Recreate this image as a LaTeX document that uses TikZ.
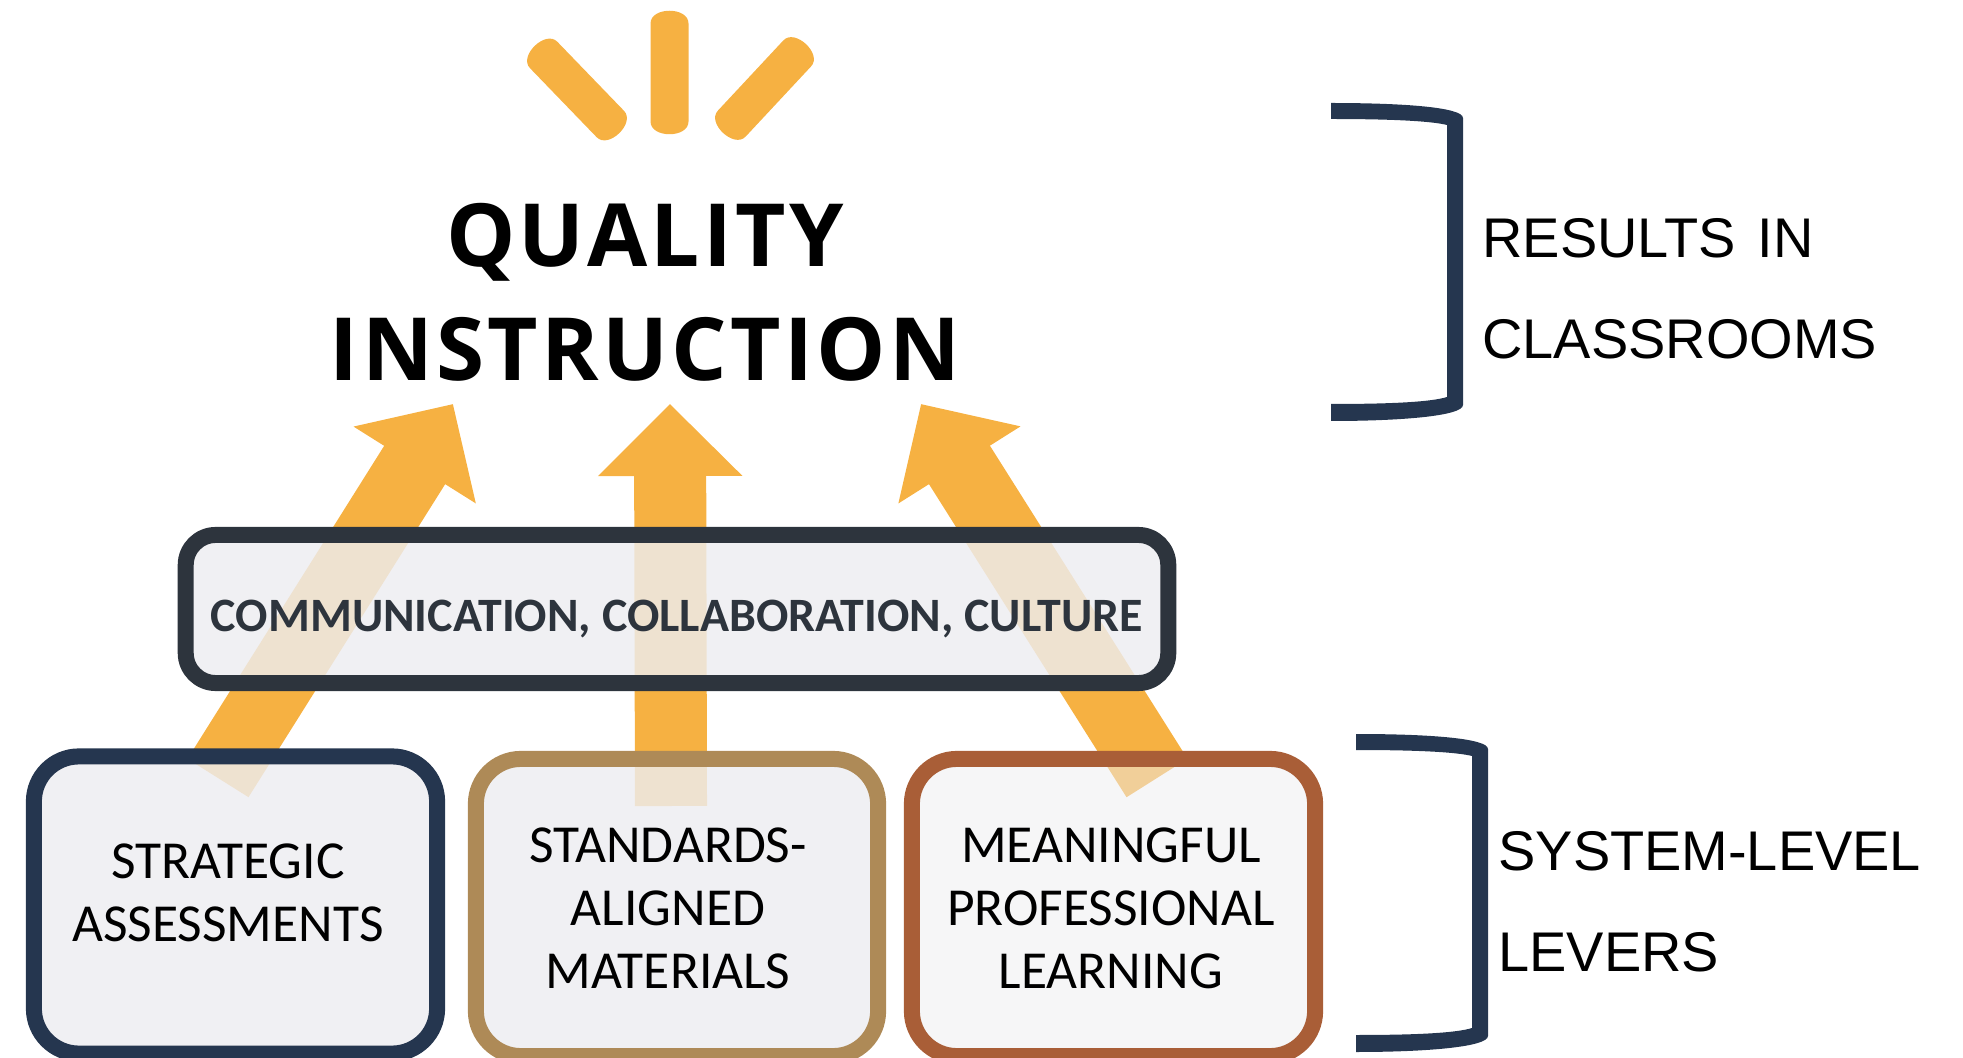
\documentclass[tikz,border=0pt]{standalone}
\usepackage{fontspec}
\setmainfont{Carlito}
\newfontfamily\titlefont[LetterSpace=3.8]{Open Sans}
\newfontfamily\sidefont{Liberation Sans}
\usetikzlibrary{arrows.meta}
\definecolor{amber}{HTML}{F6B142}
\definecolor{navy}{HTML}{25364F}
\definecolor{slate}{HTML}{2D343D}
\definecolor{tan}{HTML}{AE8A57}
\definecolor{rust}{HTML}{A95E37}
\definecolor{boxfill}{RGB}{237,237,240}
\tikzset{
  bigarrow/.style={draw=amber, line width=0.72cm, -{Triangle[length=0.72cm,width=1.40cm]}},
  ray/.style={fill=amber},
  leverbox/.style={draw, line width=0.16cm, rounded corners=0.45cm, fill=boxfill, fill opacity=0.82, draw opacity=1,
    minimum width=4.03cm, minimum height=2.97cm},
  levertext/.style={align=center, font=\fontsize{15.2}{17.9}\selectfont},
  sidetext/.style={align=left, anchor=west, font=\sidefont\fontsize{15.9}{28.7}\selectfont},
}
\newcommand{\bracketshape}[2]{%
  \fill[navy, shift={(#1,#2)}] (0,0) .. controls (70,0) and (132,4) .. (132,15) -- (132,302)
    .. controls (132,313) and (70,318) .. (0,318) -- (0,301) .. controls (60,301) and (100,299) .. (116,294)
    -- (116,22) .. controls (100,18) and (60,16) .. (0,16) -- cycle;}
\begin{document}
\begin{tikzpicture}[x=0.01cm,y=-0.01cm]
\useasboundingbox (0,0) rectangle (1963,1058);
\clip (0,0) rectangle (1963,1058);
\foreach \cx/\cy/\ang/\hlen in {577/89.5/44/48, 669.5/72.5/0/49, 764.5/88.5/-43/48}
  \fill[ray, shift={(\cx,\cy)}, rotate=\ang] (-19,-\hlen) .. controls (-19,-\hlen-17) and (19,-\hlen-17) .. (19,-\hlen)
    -- (19,\hlen) .. controls (19,\hlen+17) and (-19,\hlen+17) .. (-19,\hlen) -- cycle;

\node[align=center, font=\titlefont\bfseries\fontsize{24.8}{32.4}\selectfont] (title) at (645,292) {QUALITY\\INSTRUCTION};

\coordinate (tipa) at (453,404);
\coordinate (taila) at (218,778);
\coordinate (tipb) at (670,404);
\coordinate (tailb) at (671,806);
\coordinate (tipc) at (921,404);
\coordinate (tailc) at (1157,778);
\draw[bigarrow] (taila) -- (tipa);
\draw[bigarrow] (tailb) -- (tipb);
\draw[bigarrow] (tailc) -- (tipc);

\node[leverbox, draw=slate, minimum width=9.82cm, minimum height=1.48cm, rounded corners=0.3cm] (culture) at (677,609) {};
\node[text=slate, font=\bfseries\fontsize{13.63}{16}\selectfont] (culturetext) at (677,619) {COMMUNICATION, COLLABORATION, CULTURE};

\node[leverbox, draw=navy] (assess) at (235.5,905) {};
\node[leverbox, draw=tan, minimum width=4.02cm] (materials) at (677,907.5) {};
\node[leverbox, draw=rust, minimum width=4.03cm, fill opacity=0.5] (learning) at (1113.5,907.5) {};
\node[levertext] (assesstext) at (228,893) {STRATEGIC\\ASSESSMENTS};
\node[levertext] (materialstext) at (668,908) {STANDARDS-\\ALIGNED\\MATERIALS};
\node[levertext] (learningtext) at (1111,908) {MEANINGFUL\\PROFESSIONAL\\LEARNING};

\bracketshape{1331}{103}
\bracketshape{1356}{734}
\node[sidetext] (results) at (1470,289) {RESULTS\hspace{1.8pt} IN\\CLASSROOMS};
\node[sidetext] (system) at (1486,902) {SYSTEM-LEVEL\\LEVERS};
\end{tikzpicture}
\end{document}
